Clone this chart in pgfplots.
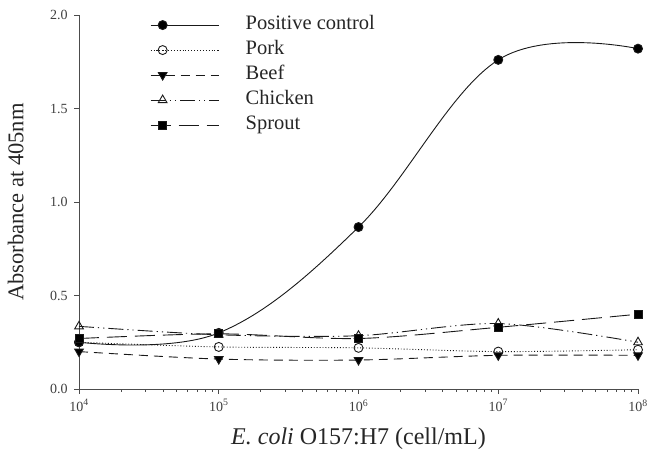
\documentclass[border=0pt]{standalone}
\usepackage{pgfplots}
\pgfplotsset{compat=1.18}
\usepackage{fontspec}
\setmainfont{Liberation Serif}
\begin{document}
\begin{tikzpicture}
\begin{axis}[
  at={(0,0)}, anchor=south west,
  scale only axis,
  width=559pt, height=374pt,
  xmode=log, xmin=1e4, xmax=1e8,
  ymin=0, ymax=2,
  axis lines=left,
  axis line style={-, line width=0.9pt, gray!60!black},
  tick style={line width=0.9pt, gray!60!black},
  tick align=outside,
  major tick length=5pt,
  xtick={1e4,1e5,1e6,1e7,1e8},
  xticklabels={10\textsuperscript{4},10\textsuperscript{5},10\textsuperscript{6},10\textsuperscript{7},10\textsuperscript{8}},
  minor xtick={},
  ytick={0,0.5,1,1.5,2},
  yticklabels={0.0,0.5,1.0,1.5,2.0},
  yticklabel style={font=\fontsize{14}{16}\selectfont, text=black!75, xshift=-3pt},
  xticklabel style={font=\fontsize{14}{16}\selectfont, text=black!75, yshift=-2pt},
  xlabel={\textit{E. coli} O157:H7 (cell/mL)},
  ylabel={Absorbance at 405nm},
  xlabel style={font=\fontsize{24}{28}\selectfont, text=black!85, yshift=-10pt},
  ylabel style={font=\fontsize{22.5}{27}\selectfont, text=black!85, yshift=19.5pt},
  legend style={draw=none, fill=none, inner sep=0pt, at={(0.127,0.999)}, anchor=north west,
    font=\fontsize{20.5}{23}\selectfont, row sep=6pt, cells={anchor=west},
    nodes={text height=13pt, text depth=4pt, inner sep=1pt, text=black!85}},
  legend image code/.code={\path[draw=none] (0pt,0pt) -- (94pt,0pt); \draw[mark repeat=3, mark phase=2, #1] plot coordinates {(0pt,0pt) (12pt,0pt) (68pt,0pt)};},
  every axis plot/.append style={line width=0.9pt, black!90},
  mark size=4.5pt,
  clip=false,
]
\addplot[smooth, tension=0.62, mark=*, mark options={solid, fill=black}] coordinates {(1e4,0.25) (1e5,0.30) (1e6,0.866) (1e7,1.76) (1e8,1.82)};
\addlegendentry{Positive control}
\addplot[smooth, dotted, mark=o, mark options={solid, fill=white}] coordinates {(1e4,0.25) (1e5,0.225) (1e6,0.22) (1e7,0.20) (1e8,0.21)};
\addlegendentry{Pork}
\addplot[smooth, dash pattern=on 9pt off 6pt, mark=triangle*, mark size=5pt, mark options={solid, fill=black, rotate=180}] coordinates {(1e4,0.20) (1e5,0.16) (1e6,0.155) (1e7,0.18) (1e8,0.18)};
\addlegendentry{Beef}
\addplot[smooth, dash pattern=on 15pt off 4pt on 1.2pt off 4pt on 1.2pt off 4pt, mark=triangle, mark size=5pt, mark options={solid, fill=white}] coordinates {(1e4,0.335) (1e5,0.29) (1e6,0.285) (1e7,0.35) (1e8,0.25)};
\addlegendentry{Chicken}
\addplot[smooth, dash pattern=on 20pt off 8pt, mark=square*, mark size=4pt, mark options={solid, fill=black}] coordinates {(1e4,0.27) (1e5,0.295) (1e6,0.27) (1e7,0.33) (1e8,0.40)};
\addlegendentry{Sprout}
\end{axis}
\pgfresetboundingbox
\useasboundingbox (-79pt,-73pt) rectangle (568pt,389pt);
\end{tikzpicture}
\end{document}
